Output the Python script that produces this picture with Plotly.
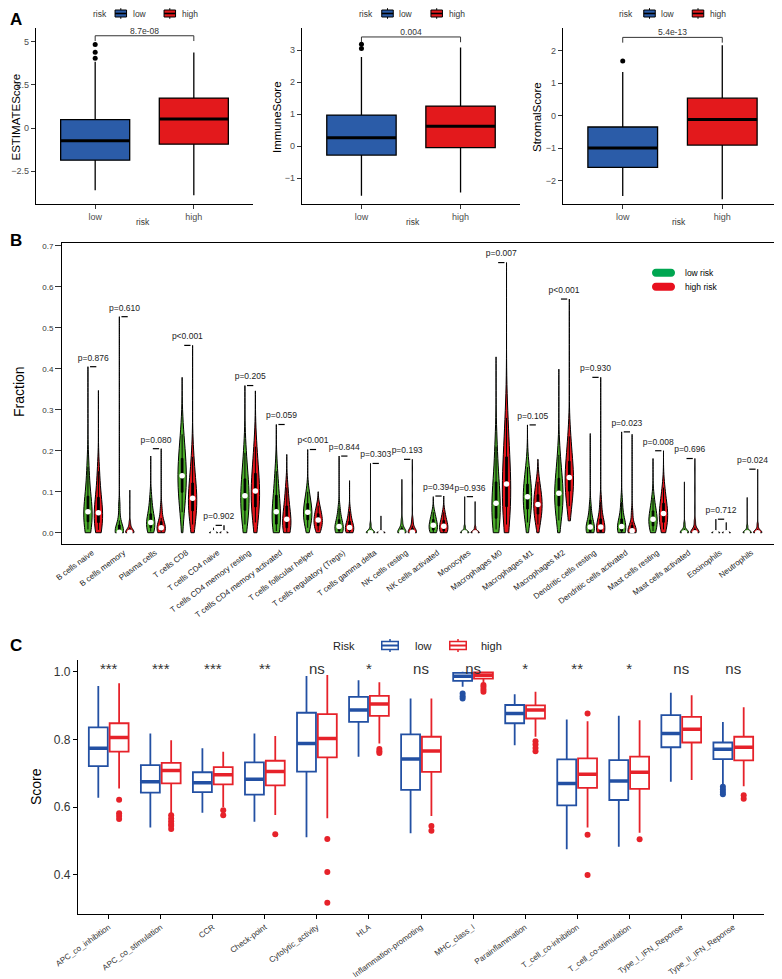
import plotly.graph_objects as go

W, H = 782, 979
OFF = 8  # the page body margin moves the figure by 8 px; place everything 8 px up/left
FONT = "Liberation Sans, Arial, sans-serif"


def fx(px):
    return (px - OFF) / W


def fy(py):
    return 1 - (py - OFF) / H


# ---------------- panel A: ESTIMATE scores by risk group
risk_groups = ["low", "high"]
a_scores = ["ESTIMATEScore", "ImmuneScore", "StromalScore"]
# [lower whisker, q1, median, q3, upper whisker]
a_low = [[-3.6, -1.86, -0.73, 0.49, 3.84],
         [-1.55, -0.28, 0.26, 0.97, 2.78],
         [-2.48, -1.60, -1.00, -0.35, 1.35]]
a_high = [[-3.9, -0.93, 0.52, 1.74, 4.38],
          [-1.45, -0.05, 0.62, 1.25, 3.08],
          [-2.58, -0.91, -0.12, 0.54, 2.18]]
a_low_out = [[4.05, 4.40, 4.85], [3.05, 3.18], [1.69]]
a_high_out = [[], [], []]
a_pval = ["8.7e-08", "0.004", "5.4e-13"]
a_bracket = [5.35, 3.41, 2.42]
a_ticks = [[-2.5, 0, 2.5, 5], [-1, 0, 1, 2, 3], [-2, -1, 0, 1, 2]]
a_ranges = [[-4.4, 5.8], [-1.81, 3.69], [-2.73, 2.71]]

# ---------------- panel B: CIBERSORT fractions (min, p10..p90, max per group)
cell_types = ["B cells naive", "B cells memory", "Plasma cells", "T cells CD8",
              "T cells CD4 naive", "T cells CD4 memory resting",
              "T cells CD4 memory activated", "T cells follicular helper",
              "T cells regulatory (Tregs)", "T cells gamma delta", "NK cells resting",
              "NK cells activated", "Monocytes", "Macrophages M0", "Macrophages M1",
              "Macrophages M2", "Dendritic cells resting", "Dendritic cells activated",
              "Mast cells resting", "Mast cells activated", "Eosinophils", "Neutrophils"]
b_low = [
    [0, 0.008, 0.018, 0.030, 0.040, 0.051, 0.065, 0.082, 0.110, 0.160, 0.405],
    [0, 0, 0, 0, 0, 0.001, 0.006, 0.015, 0.030, 0.065, 0.527],
    [0, 0.003, 0.008, 0.014, 0.019, 0.025, 0.032, 0.042, 0.058, 0.085, 0.187],
    [0, 0.050, 0.080, 0.105, 0.123, 0.139, 0.155, 0.175, 0.200, 0.240, 0.379],
    [0, 0, 0, 0, 0, 0, 0, 0, 0, 0.001, 0.012],
    [0, 0.020, 0.040, 0.060, 0.076, 0.090, 0.105, 0.125, 0.150, 0.195, 0.359],
    [0, 0.004, 0.012, 0.024, 0.037, 0.051, 0.066, 0.085, 0.110, 0.150, 0.264],
    [0, 0.012, 0.024, 0.034, 0.042, 0.050, 0.058, 0.068, 0.080, 0.100, 0.203],
    [0, 0, 0.002, 0.006, 0.010, 0.015, 0.021, 0.029, 0.040, 0.060, 0.187],
    [0, 0, 0, 0, 0, 0, 0, 0.002, 0.008, 0.020, 0.169],
    [0, 0, 0, 0, 0, 0.001, 0.004, 0.009, 0.016, 0.030, 0.130],
    [0, 0, 0.003, 0.008, 0.013, 0.018, 0.023, 0.030, 0.038, 0.050, 0.088],
    [0, 0, 0, 0, 0, 0, 0.001, 0.003, 0.007, 0.015, 0.088],
    [0, 0.008, 0.022, 0.040, 0.056, 0.072, 0.090, 0.115, 0.150, 0.210, 0.429],
    [0, 0.025, 0.045, 0.062, 0.076, 0.088, 0.100, 0.114, 0.132, 0.160, 0.263],
    [0, 0.030, 0.052, 0.070, 0.084, 0.096, 0.110, 0.127, 0.150, 0.190, 0.399],
    [0, 0, 0, 0.003, 0.008, 0.014, 0.020, 0.028, 0.040, 0.065, 0.242],
    [0, 0, 0.001, 0.005, 0.010, 0.015, 0.021, 0.030, 0.045, 0.075, 0.246],
    [0, 0.004, 0.011, 0.019, 0.026, 0.033, 0.041, 0.050, 0.062, 0.085, 0.181],
    [0, 0, 0, 0, 0, 0, 0.001, 0.004, 0.010, 0.022, 0.124],
    [0, 0, 0, 0, 0, 0, 0, 0, 0, 0.001, 0.033],
    [0, 0, 0, 0, 0, 0, 0.001, 0.003, 0.007, 0.016, 0.086],
]
b_high = [
    [0, 0.007, 0.016, 0.028, 0.038, 0.049, 0.062, 0.080, 0.105, 0.150, 0.347],
    [0, 0, 0, 0, 0, 0.001, 0.004, 0.008, 0.013, 0.025, 0.104],
    [0, 0.001, 0.003, 0.006, 0.009, 0.012, 0.017, 0.024, 0.036, 0.060, 0.205],
    [0, 0.020, 0.040, 0.058, 0.072, 0.084, 0.098, 0.115, 0.140, 0.185, 0.457],
    [0, 0, 0, 0, 0, 0, 0, 0, 0, 0.002, 0.018],
    [0, 0.025, 0.048, 0.068, 0.086, 0.102, 0.118, 0.138, 0.165, 0.210, 0.346],
    [0, 0.002, 0.007, 0.014, 0.023, 0.033, 0.045, 0.060, 0.080, 0.110, 0.191],
    [0, 0.005, 0.012, 0.019, 0.025, 0.031, 0.037, 0.044, 0.053, 0.066, 0.100],
    [0, 0, 0.002, 0.005, 0.009, 0.013, 0.018, 0.025, 0.035, 0.052, 0.127],
    [0, 0, 0, 0, 0, 0, 0, 0, 0.001, 0.004, 0.041],
    [0, 0, 0, 0, 0, 0.001, 0.004, 0.009, 0.017, 0.032, 0.179],
    [0, 0, 0.002, 0.006, 0.011, 0.016, 0.021, 0.028, 0.036, 0.050, 0.0895],
    [0, 0, 0, 0, 0, 0, 0.001, 0.003, 0.007, 0.014, 0.076],
    [0, 0.020, 0.045, 0.070, 0.095, 0.119, 0.145, 0.175, 0.215, 0.280, 0.659],
    [0, 0.020, 0.036, 0.049, 0.060, 0.069, 0.078, 0.089, 0.103, 0.124, 0.179],
    [0.029, 0.065, 0.088, 0.106, 0.121, 0.135, 0.150, 0.168, 0.193, 0.235, 0.570],
    [0, 0, 0, 0.003, 0.008, 0.014, 0.021, 0.030, 0.045, 0.075, 0.379],
    [0, 0, 0, 0, 0.002, 0.005, 0.009, 0.015, 0.026, 0.050, 0.240],
    [0, 0.008, 0.018, 0.028, 0.038, 0.047, 0.057, 0.068, 0.083, 0.110, 0.200],
    [0, 0, 0, 0, 0, 0, 0.002, 0.006, 0.013, 0.028, 0.181],
    [0, 0, 0, 0, 0, 0, 0, 0, 0, 0.001, 0.025],
    [0, 0, 0, 0, 0, 0, 0.001, 0.004, 0.009, 0.020, 0.155],
]
b_pval = ["p=0.876", "p=0.610", "p=0.080", "p<0.001", "p=0.902", "p=0.205",
          "p=0.059", "p<0.001", "p=0.844", "p=0.303", "p=0.193", "p=0.394",
          "p=0.936", "p=0.007", "p=0.105", "p<0.001", "p=0.930", "p=0.023",
          "p=0.008", "p=0.696", "p=0.712", "p=0.024"]

# ---------------- panel C: immune function scores
immune_sets = ["APC_co_inhibition", "APC_co_stimulation", "CCR", "Check-point",
               "Cytolytic_activity", "HLA", "Inflammation-promoting", "MHC_class_I",
               "Parainflammation", "T_cell_co-inhibition", "T_cell_co-stimulation",
               "Type_I_IFN_Reponse", "Type_II_IFN_Reponse"]
c_low = [[0.628, 0.721, 0.774, 0.836, 0.958],
         [0.540, 0.643, 0.675, 0.724, 0.818],
         [0.583, 0.644, 0.672, 0.703, 0.774],
         [0.557, 0.637, 0.682, 0.732, 0.818],
         [0.511, 0.705, 0.788, 0.879, 0.988],
         [0.749, 0.852, 0.887, 0.926, 0.975],
         [0.523, 0.651, 0.742, 0.815, 0.921],
         [0.956, 0.973, 0.987, 0.997, 1.000],
         [0.783, 0.848, 0.877, 0.902, 0.934],
         [0.475, 0.605, 0.670, 0.741, 0.859],
         [0.483, 0.621, 0.677, 0.739, 0.870],
         [0.675, 0.777, 0.818, 0.872, 0.938],
         [0.667, 0.742, 0.771, 0.791, 0.852]]
c_high = [[0.655, 0.764, 0.806, 0.848, 0.966],
          [0.580, 0.670, 0.708, 0.731, 0.798],
          [0.600, 0.667, 0.696, 0.718, 0.764],
          [0.577, 0.664, 0.705, 0.737, 0.810],
          [0.567, 0.747, 0.803, 0.875, 0.991],
          [0.788, 0.870, 0.905, 0.929, 0.969],
          [0.574, 0.704, 0.766, 0.808, 0.921],
          [0.968, 0.980, 0.990, 0.998, 1.000],
          [0.808, 0.862, 0.887, 0.901, 0.941],
          [0.540, 0.657, 0.697, 0.744, 0.854],
          [0.524, 0.654, 0.703, 0.749, 0.857],
          [0.680, 0.791, 0.830, 0.867, 0.931],
          [0.662, 0.738, 0.777, 0.808, 0.895]]
c_low_out = [[], [], [], [], [], [], [], [0.936, 0.928, 0.921], [], [], [], [],
             [0.660, 0.652, 0.645, 0.638]]
c_high_out = [[0.622, 0.582, 0.574, 0.565], [0.576, 0.566, 0.558, 0.550, 0.545, 0.535],
              [0.591, 0.576], [0.520], [0.506, 0.408, 0.317], [0.772, 0.765, 0.760],
              [0.544, 0.530], [0.961, 0.955, 0.948, 0.941], [0.795, 0.785, 0.775, 0.765],
              [0.877, 0.518, 0.399], [0.505], [], [0.635, 0.625]]
c_sig = ["***", "***", "***", "**", "ns", "*", "ns", "ns", "*", "**", "*", "ns", "ns"]

A_BLUE, A_RED = "#2B5CA8", "#E3191C"
V_GREEN, V_RED = "#4DAE2C", "#E4151C"
L_GREEN, L_RED = "#00A651", "#E8101E"
C_BLUE, C_RED = "#2350A3", "#E6222A"

fig = go.Figure()
annotations = []
shapes = []


def label(text, x, y, size, angle=0, anchor="center", color="black"):
    return dict(text=text, x=fx(x), y=fy(y), xref="paper", yref="paper",
                showarrow=False, textangle=angle, xanchor=anchor, yanchor="middle",
                font=dict(size=size, color=color, family=FONT))


def pshape(kind, x0, y0, x1, y1, **kw):
    return dict(type=kind, xref="paper", yref="paper", x0=fx(x0), x1=fx(x1),
                y0=fy(y0), y1=fy(y1), **kw)


def box_key(cx, cy, w, h, fill, edge, lw, mw, stub):
    # legend glyph: box, median bar and whisker stubs
    return [
        pshape("line", cx, cy - h / 2 - stub, cx, cy - h / 2, line=dict(color=edge, width=lw)),
        pshape("line", cx, cy + h / 2, cx, cy + h / 2 + stub, line=dict(color=edge, width=lw)),
        pshape("rect", cx - w / 2, cy - h / 2, cx + w / 2, cy + h / 2,
               fillcolor=fill, line=dict(color=edge, width=lw)),
        pshape("line", cx - w / 2, cy, cx + w / 2, cy, line=dict(color=edge, width=mw)),
    ]


layout = dict(width=W, height=H, margin=dict(l=0, r=0, t=0, b=0),
              paper_bgcolor="white", plot_bgcolor="white", showlegend=False,
              font=dict(family=FONT, color="black"),
              boxmode="overlay", violinmode="overlay")

axis_a = dict(showline=True, linecolor="black", linewidth=1.3, ticks="outside",
              ticklen=4, tickwidth=1, tickcolor="#333", showgrid=False, zeroline=False,
              automargin=False, tickfont=dict(size=9, color="#4d4d4d"))

# ---------------- panel A
a_dom_x = [(36, 253), (302, 520), (563, 782)]
a_ytitle_x = [15.5, 277, 537]
a_xtitle_x = [143, 413, 679]
a_leg = [(99.7, 120.8, 131, 169.8, 180), (366, 387.5, 397.3, 436.7, 446.7),
         (626, 649.5, 659.3, 698, 708.3)]
leg_y = 13.5
for i in range(3):
    k = "" if i == 0 else str(i + 1)
    xa, ya = "x" + k, "y" + k
    layout["xaxis" + k] = dict(domain=[fx(a_dom_x[i][0]), min(fx(a_dom_x[i][1]), 1)],
                               anchor=ya, range=[-0.6, 1.6], tickvals=[0, 1],
                               ticktext=risk_groups, **axis_a)
    layout["yaxis" + k] = dict(domain=[fy(204), fy(28)], anchor=xa,
                               range=a_ranges[i], tickvals=a_ticks[i], **axis_a)
    groups = [(a_low[i], A_BLUE, a_low_out[i]), (a_high[i], A_RED, a_high_out[i])]
    for j, (st, col, outs) in enumerate(groups):
        lo, q1, med, q3, hi = st
        fig.add_trace(go.Box(x=[j], q1=[q1], median=[med], q3=[q3],
                             lowerfence=[lo], upperfence=[hi], width=0.7,
                             fillcolor=col, line=dict(color="black", width=1.3),
                             whiskerwidth=0, boxpoints=False, name=risk_groups[j],
                             xaxis=xa, yaxis=ya, hoverinfo="skip"))
        fig.add_trace(go.Scatter(x=[j - 0.35, j + 0.35], y=[med, med], mode="lines",
                                 line=dict(color="black", width=3),
                                 xaxis=xa, yaxis=ya, hoverinfo="skip"))
        if outs:
            fig.add_trace(go.Scatter(x=[j] * len(outs), y=outs, mode="markers",
                                     marker=dict(color="black", size=5),
                                     xaxis=xa, yaxis=ya))
    b = a_bracket[i]
    tip = 0.03 * (a_ranges[i][1] - a_ranges[i][0])
    fig.add_trace(go.Scatter(x=[0, 0, 1, 1], y=[b - tip, b, b, b - tip], mode="lines",
                             line=dict(color="#333", width=1),
                             xaxis=xa, yaxis=ya, hoverinfo="skip"))
    fig.add_trace(go.Scatter(x=[0.5], y=[b], mode="text", text=[a_pval[i]],
                             textposition="top center",
                             textfont=dict(size=8.5, color="#333"),
                             xaxis=xa, yaxis=ya))
    annotations.append(label(a_scores[i], a_ytitle_x[i], 117, 11.5, angle=-90))
    annotations.append(label("risk", a_xtitle_x[i], 222, 8.5, color="#333"))
    tx, k1, t1, k2, t2 = a_leg[i]
    annotations.append(label("risk", tx, leg_y, 8.5, color="#333"))
    shapes += box_key(k1, leg_y, 11.5, 7, A_BLUE, "black", 1, 1.6, 1.8)
    shapes += box_key(k2, leg_y, 11.5, 7, A_RED, "black", 1, 1.6, 1.8)
    annotations.append(label(risk_groups[0], t1, leg_y, 8.5, anchor="left", color="#333"))
    annotations.append(label(risk_groups[1], t2, leg_y, 8.5, anchor="left", color="#333"))

# ---------------- panel B
layout["xaxis4"] = dict(domain=[fx(62), fx(774)], anchor="y4", range=[-2.48, 65.56],
                        tickvals=[3 * i + 0.4 for i in range(len(cell_types))],
                        ticktext=cell_types, tickangle=-37, ticks="", showline=True,
                        mirror=True, linecolor="black", linewidth=1, showgrid=False,
                        zeroline=False, automargin=False,
                        tickfont=dict(size=8, color="#222"))
layout["yaxis4"] = dict(domain=[fy(544), fy(243.3)], anchor="x4", range=[-0.0275, 0.706],
                        tickvals=[k / 10 for k in range(8)], tickformat=".1f",
                        ticks="outside", ticklen=6, tickcolor="#333", showline=True,
                        mirror=True, linecolor="black", linewidth=1, showgrid=False,
                        zeroline=False, automargin=False,
                        tickfont=dict(size=8, color="#333"))

med_x, med_y = [], []
seg_x, seg_y, ptxt_x, ptxt_y = [], [], [], []
for i in range(len(cell_types)):
    for off, qs, col in [(0, b_low[i], V_GREEN), (1, b_high[i], V_RED)]:
        pos = 3 * i + off
        body = qs[1:-1]
        bw = max(0.25 * (body[-1] - body[0]), 0.002)
        fig.add_trace(go.Violin(x=[pos] * len(body), y=body, width=0.8,
                                spanmode="manual", span=[qs[0], qs[-1]], bandwidth=bw,
                                scalemode="width", fillcolor=col,
                                line=dict(color="black", width=1), points=False,
                                box=dict(visible=True, width=0.2, fillcolor="black",
                                         line=dict(color="black", width=1)),
                                hoverinfo="skip", xaxis="x4", yaxis="y4"))
        med_x.append(pos)
        med_y.append(qs[5])
    mx = max(b_low[i][-1], b_high[i][-1])
    seg_x += [3 * i + 0.2, 3 * i + 0.8, None]
    seg_y += [mx, mx, None]
    ptxt_x.append(3 * i + 0.5)
    ptxt_y.append(mx + 0.02)

fig.add_trace(go.Scatter(x=med_x, y=med_y, mode="markers",
                         marker=dict(color="white", size=5.5, line=dict(width=0)),
                         xaxis="x4", yaxis="y4", hoverinfo="skip"))
fig.add_trace(go.Scatter(x=seg_x, y=seg_y, mode="lines",
                         line=dict(color="black", width=1.2),
                         xaxis="x4", yaxis="y4", hoverinfo="skip"))
fig.add_trace(go.Scatter(x=ptxt_x, y=ptxt_y, mode="text", text=b_pval,
                         textposition="middle center",
                         textfont=dict(size=8.5, color="#222"),
                         xaxis="x4", yaxis="y4"))


def pill(x0, x1, yc, h, color):
    r = h / 2
    c = r * 4 / 3
    pts = (f"M{fx(x0 + r)},{fy(yc - r)} L{fx(x1 - r)},{fy(yc - r)} "
           f"C{fx(x1 - r + c)},{fy(yc - r)} {fx(x1 - r + c)},{fy(yc + r)} {fx(x1 - r)},{fy(yc + r)} "
           f"L{fx(x0 + r)},{fy(yc + r)} "
           f"C{fx(x0 + r - c)},{fy(yc + r)} {fx(x0 + r - c)},{fy(yc - r)} {fx(x0 + r)},{fy(yc - r)} Z")
    return dict(type="path", path=pts, xref="paper", yref="paper",
                fillcolor=color, line=dict(width=0))


shapes.append(pill(652, 675, 272.7, 8, L_GREEN))
shapes.append(pill(652, 675, 286.7, 8, L_RED))
annotations.append(label("low risk", 683, 272.7, 8.5, anchor="left"))
annotations.append(label("high risk", 683, 286.7, 8.5, anchor="left"))
annotations.append(label("Fraction", 19, 392, 14, angle=-90))

# ---------------- panel C
layout["xaxis5"] = dict(domain=[fx(78), fx(764)], anchor="y5", range=[-0.59, 12.59],
                        tickvals=list(range(len(immune_sets))), ticktext=immune_sets,
                        tickangle=-36, ticks="outside", ticklen=4, tickcolor="black",
                        showline=True, linecolor="black", linewidth=1.3,
                        showgrid=False, zeroline=False, automargin=False,
                        tickfont=dict(size=8, color="#333"))
layout["yaxis5"] = dict(domain=[fy(914.3), fy(660)], anchor="x5", range=[0.283, 1.035],
                        tickvals=[0.4, 0.6, 0.8, 1.0], tickformat=".1f",
                        ticks="outside", ticklen=4, tickcolor="black", showline=True,
                        linecolor="black", linewidth=1.3, showgrid=False, zeroline=False,
                        automargin=False, tickfont=dict(size=12, color="#333"))

for off, stats, outs, col, name in [(-0.2, c_low, c_low_out, C_BLUE, "low"),
                                    (0.2, c_high, c_high_out, C_RED, "high")]:
    pos = [i + off for i in range(len(immune_sets))]
    fig.add_trace(go.Box(x=pos, lowerfence=[s[0] for s in stats],
                         q1=[s[1] for s in stats], median=[s[2] for s in stats],
                         q3=[s[3] for s in stats], upperfence=[s[4] for s in stats],
                         width=0.364, fillcolor="white", line=dict(color=col, width=1.8),
                         whiskerwidth=0, boxpoints=False, name=name,
                         xaxis="x5", yaxis="y5", hoverinfo="skip"))
    mxs, mys = [], []
    for p, s in zip(pos, stats):
        mxs += [p - 0.182, p + 0.182, None]
        mys += [s[2], s[2], None]
    fig.add_trace(go.Scatter(x=mxs, y=mys, mode="lines", line=dict(color=col, width=3.5),
                             xaxis="x5", yaxis="y5", hoverinfo="skip"))
    oxs, oys = [], []
    for p, o in zip(pos, outs):
        oxs += [p] * len(o)
        oys += o
    fig.add_trace(go.Scatter(x=oxs, y=oys, mode="markers", marker=dict(color=col, size=6),
                             xaxis="x5", yaxis="y5"))

fig.add_trace(go.Scatter(x=list(range(len(immune_sets))), y=[1.005] * len(immune_sets),
                         mode="text", text=c_sig, textposition="middle center",
                         textfont=dict(size=15, color="#333"),
                         xaxis="x5", yaxis="y5"))
annotations.append(label("Score", 36, 787, 14, angle=-90))
annotations.append(label("Risk", 344, 645.5, 11, color="#222"))
shapes += box_key(390, 645.5, 16.5, 8, "white", C_BLUE, 1.5, 2, 2.5)
shapes += box_key(458, 645.5, 16.5, 8, "white", C_RED, 1.5, 2, 2.5)
annotations.append(label("low", 413.3, 645.5, 11, anchor="left", color="#222"))
annotations.append(label("high", 479.3, 645.5, 11, anchor="left", color="#222"))

# panel letters (kept just inside the left/top edge)
annotations.append(label("<b>A</b>", OFF, 20, 17, anchor="left"))
annotations.append(label("<b>B</b>", OFF, 240, 17, anchor="left"))
annotations.append(label("<b>C</b>", OFF, 645, 17, anchor="left"))

layout["annotations"] = annotations
layout["shapes"] = shapes
fig.update_layout(**layout)

fig.write_html("out.html")
